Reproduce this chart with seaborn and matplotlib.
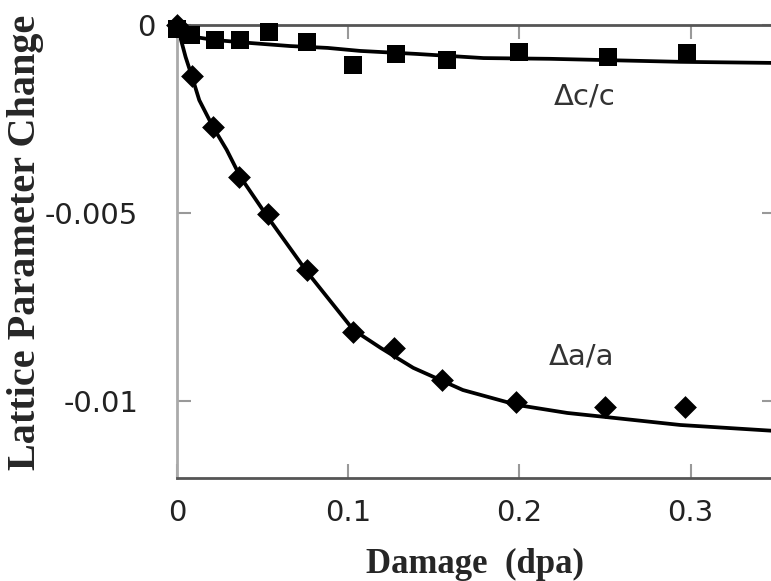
import matplotlib
matplotlib.use("Agg")
import matplotlib.pyplot as plt
import matplotlib.transforms as mtransforms
import seaborn as sns

dose_a = [0.0, 0.009, 0.021, 0.036, 0.053, 0.076, 0.103, 0.127, 0.155, 0.198, 0.250, 0.297]
da_a = [0.0, -0.00136, -0.00271, -0.00404, -0.00503, -0.00652, -0.00816, -0.00859,
        -0.00944, -0.01003, -0.01016, -0.01016]

dose_c = [0.0, 0.008, 0.022, 0.037, 0.054, 0.076, 0.103, 0.128, 0.158, 0.200, 0.252, 0.298]
dc_c = [-0.0001, -0.00027, -0.0004, -0.0004, -0.00019, -0.00045, -0.00106, -0.00077,
        -0.00093, -0.00072, -0.00085, -0.00074]

# fitted curves
fit_x_a = [0.0, 0.005, 0.009, 0.013, 0.021, 0.029, 0.037, 0.053, 0.076, 0.103, 0.119,
           0.138, 0.167, 0.199, 0.228, 0.255, 0.294, 0.35]
fit_a = [0.0, -0.00085, -0.00141, -0.0020, -0.00271, -0.00332, -0.00404, -0.00511,
         -0.00657, -0.00811, -0.00859, -0.00912, -0.00971, -0.01011, -0.01032,
         -0.01045, -0.01064, -0.0108]

fit_x_c = [0.0, 0.005, 0.0105, 0.022, 0.043, 0.066, 0.088, 0.107, 0.140, 0.179, 0.218,
           0.294, 0.35]
fit_c = [0.0, -0.00021, -0.00032, -0.0004, -0.00048, -0.00056, -0.00061, -0.00069,
         -0.00077, -0.00088, -0.0009, -0.00098, -0.00101]

xticks = [0, 0.1, 0.2, 0.3]
xticklabels = ["0", "0.1", "0.2", "0.3"]
yticks = [0, -0.005, -0.01]
yticklabels = ["0", "-0.005", "-0.01"]

sns.set_style("ticks")
plt.rcParams["font.family"] = ["DejaVu Sans"]
plt.rcParams["axes.unicode_minus"] = False

fig = plt.figure(figsize=(7.71, 5.81), dpi=100)
ax = fig.add_axes([0.2296, 0.1773, 0.777, 0.7797])

# fit lines
sns.lineplot(x=fit_x_a, y=fit_a, color="black", lw=2.7, ax=ax, estimator=None, sort=False)
sns.lineplot(x=fit_x_c, y=fit_c, color="black", lw=2.7, ax=ax, estimator=None, sort=False)

# data points
sns.scatterplot(x=dose_a, y=da_a, marker="D", s=135, color="black", edgecolor="black",
                linewidth=0, ax=ax, clip_on=False, zorder=3)
sns.scatterplot(x=dose_c, y=dc_c, marker="s", s=170, color="black", edgecolor="black",
                linewidth=0, ax=ax, clip_on=False, zorder=3)

ax.set_xlim(0, 0.35)
ax.set_ylim(-0.01205, 0)
ax.set_xticks(xticks, labels=xticklabels)
ax.set_yticks(yticks, labels=yticklabels)

for side in ["top", "bottom", "right"]:
    ax.spines[side].set_visible(True)
    ax.spines[side].set_color("#555555")
    ax.spines[side].set_linewidth(2)
ax.spines["left"].set_color("#aaaaaa")
ax.spines["left"].set_linewidth(2)

ax.tick_params(direction="in", length=10, width=1.5, color="#999999",
               top=True, right=True, labelsize=21, labelcolor="#222222")
ax.tick_params(axis="y", pad=28)
ax.tick_params(axis="x", pad=15)

# the "0" on the y axis sits closer to the spine in the original
for lab in ax.get_yticklabels():
    if lab.get_text() == "0":
        off = mtransforms.ScaledTranslation(0.17, 0, fig.dpi_scale_trans)
        lab.set_transform(lab.get_transform() + off)

ax.set_xlabel("Damage  (dpa)", fontfamily="Liberation Serif", fontweight="bold", fontsize=25)
ax.xaxis.set_label_coords(0.4975, -0.155)
ax.set_ylabel("Lattice Parameter Change", fontfamily="Liberation Serif", fontweight="bold",
              fontsize=29)
ax.yaxis.set_label_coords(-0.222, 0.52)

ax.text(0.238, -0.00191, "\u0394c/c", fontsize=21, color="#333333", ha="center", va="center")
ax.text(0.2366, -0.00883, "\u0394a/a", fontsize=21, color="#333333", ha="center", va="center")

fig.savefig("out.png", dpi=100)
